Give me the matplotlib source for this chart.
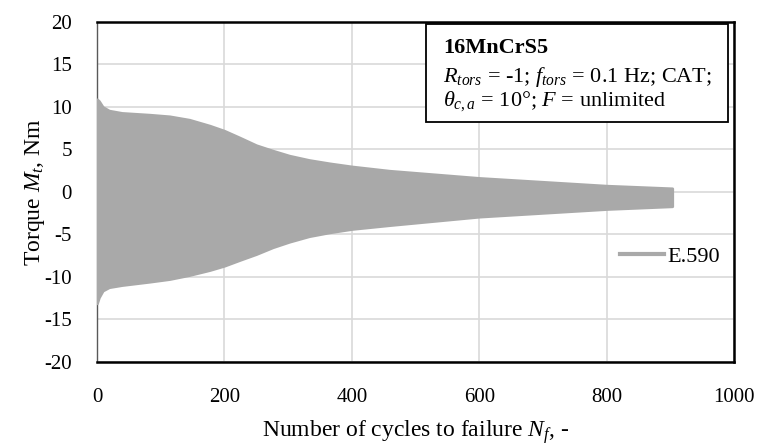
import matplotlib
matplotlib.use('Agg')
import matplotlib.pyplot as plt
from matplotlib.patches import Rectangle

plt.rcParams['font.family'] = 'Liberation Serif'
plt.rcParams['mathtext.fontset'] = 'custom'
plt.rcParams['mathtext.rm'] = 'Liberation Serif'
plt.rcParams['mathtext.it'] = 'Liberation Serif:italic'
plt.rcParams['mathtext.bf'] = 'Liberation Serif:bold'
plt.rcParams['axes.unicode_minus'] = False

# envelope of torque signal
n_cycles = [0, 3, 9, 19, 39, 83, 114, 145, 177, 200, 224, 250, 276, 302, 333,
            365, 400, 459, 600, 800, 903]
upper = [10.9, 10.7, 10.0, 9.57, 9.3, 9.09, 8.9, 8.5, 7.8, 7.2, 6.4, 5.5, 4.86,
         4.27, 3.76, 3.37, 3.0, 2.5, 1.65, 0.74, 0.43]
lower = [-13.1, -12.4, -11.6, -11.2, -10.95, -10.55, -10.24, -9.77, -9.18,
         -8.67, -8.0, -7.3, -6.5, -5.85, -5.2, -4.75, -4.35, -3.9, -2.9, -2.0,
         -1.68]

grey = '#a9a9a9'

fig = plt.figure(figsize=(7.6, 4.47), dpi=100)
ax = fig.add_axes([0.1276, 0.1902, 0.8382, 0.7606])

ax.fill_between(n_cycles, lower, upper, color=grey, lw=2, edgecolor=grey,
                joinstyle='round', capstyle='round', zorder=3)
ax.plot([], [], color=grey, lw=3, label='E.590')

ax.set_xlim(0, 1000)
ax.set_ylim(-20, 20)
ax.set_xticks(range(0, 1001, 200))
ax.set_yticks(range(-20, 21, 5))
ax.grid(True, color='#d9d9d9', lw=1.2, zorder=0)
ax.set_axisbelow(True)
ax.tick_params(length=0, labelsize=15)
ax.tick_params(axis='x', pad=19)
ax.tick_params(axis='y', pad=18)

for s in ['top', 'bottom', 'right']:
    ax.spines[s].set_color('black')
    ax.spines[s].set_linewidth(1.8)
ax.spines['left'].set_color('#595959')
ax.spines['left'].set_linewidth(1.0)

ax.set_xlabel('Number of cycles to failure $N_f$, -', fontsize=17, labelpad=8)
ax.set_ylabel('Torque $M_t$, Nm', fontsize=17, labelpad=-2)

leg = ax.legend(loc='center right', bbox_to_anchor=(0.9775, 0.309),
                frameon=False, fontsize=16, handlelength=1.95, borderpad=0,
                borderaxespad=0, handletextpad=0.15)

# info box
ax.add_patch(Rectangle((0.5165, 0.706), 0.474, 0.288, transform=ax.transAxes,
                       facecolor='white', edgecolor='black', lw=1.3, zorder=5))
ax.text(0.543, 0.924, '16MnCrS5', transform=ax.transAxes, fontsize=16,
        fontweight='bold', va='center', zorder=6)
ax.text(0.543, 0.838, '$R_{tors}$ = -1; $f_{tors}$ = 0.1 Hz; CAT;',
        transform=ax.transAxes, fontsize=16, va='center', zorder=6)
ax.text(0.543, 0.768, r'$\theta_{c,a}$ = 10°; $F$ = unlimited',
        transform=ax.transAxes, fontsize=16, va='center', zorder=6)

fig.savefig('out.png', dpi=100)
